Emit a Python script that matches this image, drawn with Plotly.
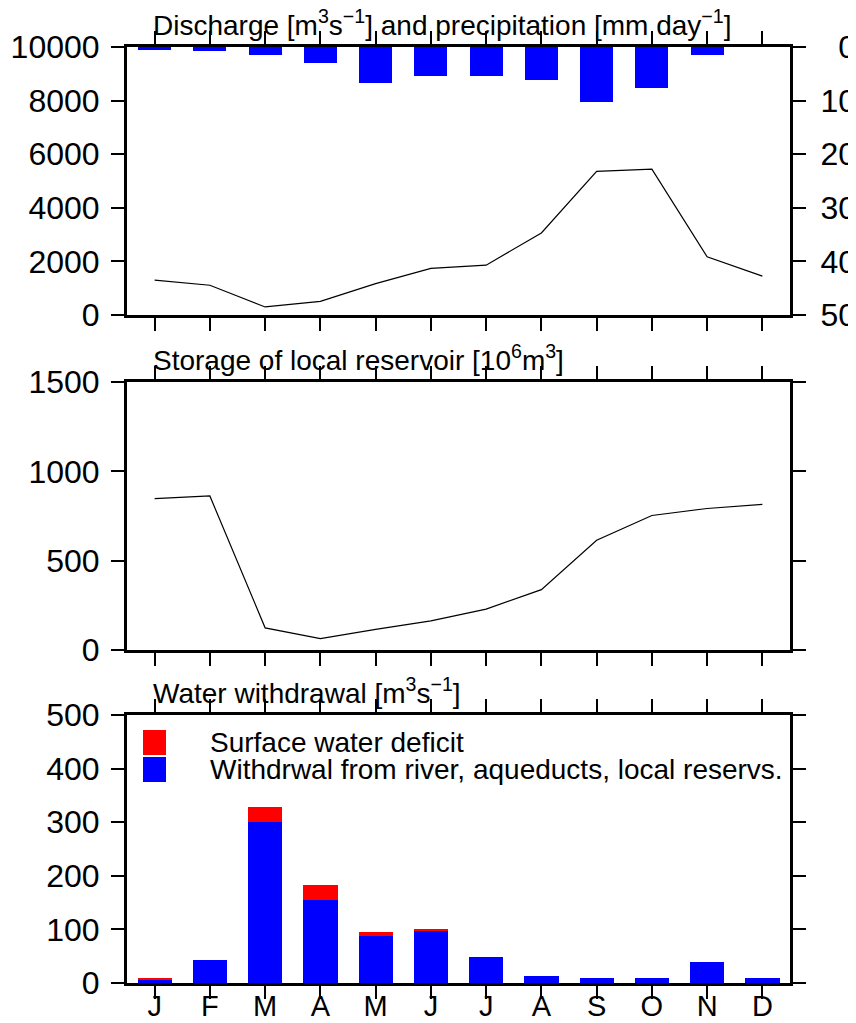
import plotly.graph_objects as go

months = ["J", "F", "M", "A", "M", "J", "J", "A", "S", "O", "N", "D"]
xpos = list(range(12))

discharge = [1300, 1110, 300, 510, 1170, 1740, 1860, 3060, 5360, 5440, 2170, 1450]
precip = [0.5, 0.75, 1.5, 2.9, 6.8, 5.5, 5.5, 6.1, 10.3, 7.6, 1.4, 0.0]
storage = [847, 862, 124, 64, 115, 163, 229, 338, 614, 753, 792, 815]
withdrawal = [7, 42, 300, 154, 87, 98.5, 48, 12.5, 9, 10, 40, 10]
deficit = [1, 0, 29, 29, 9, 1.5, 0, 0, 0, 0, 0, 0]

discharge_ticks = [0, 2000, 4000, 6000, 8000, 10000]
precip_ticks = [0, 10, 20, 30, 40, 50]
storage_ticks = [0, 500, 1000, 1500]
withdrawal_ticks = [0, 100, 200, 300, 400, 500]

FONT = "Liberation Sans, Arial, Helvetica, sans-serif"
BLUE = "#0000FF"
RED = "#FF0000"

fig = go.Figure()

# Top panel: discharge line + precipitation bars (reversed right axis)
fig.add_trace(go.Bar(x=xpos, y=precip, xaxis="x", yaxis="y2", width=0.6,
                     marker=dict(color=BLUE, line=dict(width=0)), showlegend=False))
fig.add_trace(go.Scatter(x=xpos, y=discharge, xaxis="x", yaxis="y", mode="lines",
                         line=dict(color="black", width=1.2), showlegend=False))

# Middle panel: storage
fig.add_trace(go.Scatter(x=xpos, y=storage, xaxis="x2", yaxis="y3", mode="lines",
                         line=dict(color="black", width=1.2), showlegend=False))

# Bottom panel: stacked withdrawal + deficit
fig.add_trace(go.Bar(x=xpos, y=withdrawal, xaxis="x3", yaxis="y4", width=0.62,
                     marker=dict(color=BLUE, line=dict(width=0)), showlegend=False))
fig.add_trace(go.Bar(x=xpos, y=deficit, xaxis="x3", yaxis="y4", width=0.62,
                     marker=dict(color=RED, line=dict(width=0)), showlegend=False))
# invisible trace to carry the month-label axis
fig.add_trace(go.Scatter(x=xpos, y=[None] * 12, xaxis="x4", yaxis="y4", mode="lines",
                         showlegend=False, hoverinfo="skip"))

# page has an 8px body margin: figure is 848x1015 so the plot lands at the reference pixels
H = 936.0
dom_top = [(983 - 315) / H, 1.0]
dom_mid = [(983 - 650) / H, (983 - 382) / H]
dom_bot = [0.0, (983 - 715) / H]

common_axis = dict(showline=True, linewidth=3, linecolor="black", mirror="ticks",
                   ticks="outside", ticklen=13, tickwidth=1.5, tickcolor="black",
                   showgrid=False, zeroline=False, automargin=False,
                   tickfont=dict(family=FONT, size=32, color="black"))

xcommon = dict(common_axis, range=[-0.5, 11.5], tickmode="array", tickvals=xpos)

def lab(v):
    return [str(t) for t in v]

fig.update_layout(
    width=848, height=1015,
    margin=dict(l=119, r=66, t=39, b=40, autoexpand=False),
    paper_bgcolor="white", plot_bgcolor="white",
    barmode="stack", bargap=0,
    showlegend=False,
    xaxis=dict(xcommon, domain=[0, 1], anchor="y", showticklabels=False),
    xaxis2=dict(xcommon, domain=[0, 1], anchor="y3", showticklabels=False),
    xaxis3=dict(xcommon, domain=[0, 1], anchor="y4", showticklabels=False),
    xaxis4=dict(domain=[0, 1], anchor="y4", overlaying="x3", side="bottom",
                range=[-0.5, 11.5], tickmode="array", tickvals=xpos, ticktext=months,
                ticks="", showline=False, showgrid=False, zeroline=False,
                automargin=False, ticklabelstandoff=3,
                tickfont=dict(family=FONT, size=29, color="black")),
    yaxis=dict(common_axis, domain=dom_top, anchor="x", range=[0, 10000],
               tickmode="array", tickvals=discharge_ticks, ticktext=lab(discharge_ticks),
               mirror=False, ticklabelstandoff=5),
    yaxis2=dict(common_axis, overlaying="y", side="right", anchor="x",
                range=[50, 0], tickmode="array", tickvals=precip_ticks,
                ticktext=[("\u2007" + str(t)) if t < 10 else str(t) for t in precip_ticks],
                mirror=False, ticklabelstandoff=8),
    yaxis3=dict(common_axis, domain=dom_mid, anchor="x2", range=[0, 1500],
                tickmode="array", tickvals=storage_ticks, ticktext=lab(storage_ticks),
                ticklabelstandoff=5),
    yaxis4=dict(common_axis, domain=dom_bot, anchor="x3", range=[0, 500],
                tickmode="array", tickvals=withdrawal_ticks, ticktext=lab(withdrawal_ticks),
                ticklabelstandoff=5),
)

tfont = dict(family=FONT, size=28, color="black")
x_title = (151 - 127) / 663.0
fig.add_annotation(text="Discharge [m<sup>3</sup>s<sup>\u22121</sup>] and precipitation [mm day<sup>\u22121</sup>]",
                   xref="paper", yref="paper", x=x_title, y=(983 - 23) / H,
                   xanchor="left", yanchor="middle", showarrow=False, font=tfont)
fig.add_annotation(text="Storage of local reservoir [10<sup>6</sup>m<sup>3</sup>]",
                   xref="paper", yref="paper", x=x_title, y=(983 - 358) / H,
                   xanchor="left", yanchor="middle", showarrow=False, font=tfont)
fig.add_annotation(text="Water withdrawal [m<sup>3</sup>s<sup>\u22121</sup>]",
                   xref="paper", yref="paper", x=x_title, y=(983 - 691) / H,
                   xanchor="left", yanchor="middle", showarrow=False, font=tfont)

# Legend (bottom panel)
lx0 = (143 - 127) / 663.0
lx1 = (166 - 127) / 663.0
fig.add_shape(type="rect", xref="x3 domain", yref="y4 domain",
              x0=lx0, x1=lx1, y0=(983 - 755) / 268.0, y1=(983 - 730) / 268.0,
              fillcolor=RED, line=dict(width=0))
fig.add_shape(type="rect", xref="x3 domain", yref="y4 domain",
              x0=lx0, x1=lx1, y0=(983 - 782) / 268.0, y1=(983 - 757) / 268.0,
              fillcolor=BLUE, line=dict(width=0))
lfont = dict(family=FONT, size=28, color="black")
fig.add_annotation(text="Surface water deficit", xref="x3 domain", yref="y4 domain",
                   x=(208 - 127) / 663.0, y=(983 - 742) / 268.0, xanchor="left",
                   yanchor="middle", showarrow=False, font=lfont)
fig.add_annotation(text="Withdrwal from river, aqueducts, local reservs.",
                   xref="x3 domain", yref="y4 domain",
                   x=(208 - 127) / 663.0, y=(983 - 769) / 268.0, xanchor="left",
                   yanchor="middle", showarrow=False, font=lfont)

fig.write_html("out.html")
